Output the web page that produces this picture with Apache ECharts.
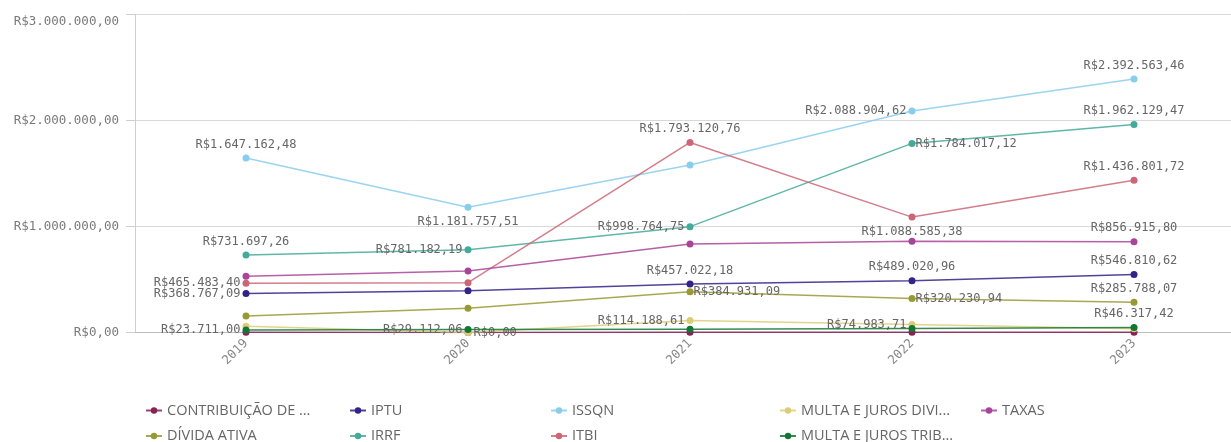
<!DOCTYPE html>
<html>
<head>
<meta charset="utf-8">
<script src="https://cdn.jsdelivr.net/npm/echarts@6/dist/echarts.min.js"></script>
<style>
  html, body { margin: 0; padding: 0; background: #fff; }
  #chart_one { width: 1231px; height: 442px; }
</style>
</head>
<body>
<div id="chart_one"></div>
<script>
// categories
const years = ['2019', '2020', '2021', '2022', '2023'];

// series values (labelled ones exact)
const contribuicao = [1500, 0, 2500, 3000, 2500];
const dividaAtiva = [155000, 228000, 384931.09, 320230.94, 285788.07];
const iptu = [368767.09, 395000, 457022.18, 489020.96, 546810.62];
const irrf = [731697.26, 781182.19, 998764.75, 1784017.12, 1962129.47];
const issqn = [1647162.48, 1181757.51, 1580000, 2088904.62, 2392563.46];
const itbi = [465483.40, 470000, 1793120.76, 1088585.38, 1436801.72];
const multaDivida = [58000, 0, 114188.61, 74983.71, 35000];
const multaTrib = [23711.00, 29112.06, 31000, 38000, 46317.42];
const taxas = [530000, 580000, 835000, 862000, 856915.80];

const names = ['CONTRIBUIÇÃO DE ...', 'DÍVIDA ATIVA', 'IPTU', 'IRRF', 'ISSQN', 'ITBI',
  'MULTA E JUROS DIVI...', 'MULTA E JUROS TRIB...', 'TAXAS'];
const values = [contribuicao, dividaAtiva, iptu, irrf, issqn, itbi, multaDivida, multaTrib, taxas];
const colors = ['#882255', '#999933', '#332288', '#44aa99', '#88ccee', '#cc6677',
  '#ddcc77', '#117733', '#aa4499'];

// which points get a value label, and where (series index -> year index -> place)
const labelPlaces = {
  1: {2: 'rightDown', 3: 'rightDown', 4: 'top'},
  2: {0: 'left', 2: 'top', 3: 'top', 4: 'top'},
  3: {0: 'top', 1: 'leftUp', 2: 'leftUp', 3: 'rightDown', 4: 'top'},
  4: {0: 'top', 1: 'bottom', 3: 'leftUp', 4: 'top'},
  5: {0: 'leftUp', 2: 'top', 3: 'bottom', 4: 'top'},
  6: {1: 'rightUp', 2: 'leftUp', 3: 'leftUp'},
  7: {0: 'leftUp', 1: 'leftUp', 4: 'top'},
  8: {4: 'top'}
};

const monoFont = '"DejaVu Sans Mono", monospace';

function brl(v) {
  var parts = Number(v).toFixed(2).split('.');
  parts[0] = parts[0].replace(/\B(?=(\d{3})+(?!\d))/g, '.');
  return 'R$' + parts[0] + ',' + parts[1];
}

function labelFor(place) {
  var base = {show: true, color: '#666', fontFamily: monoFont, fontSize: 12,
    formatter: function (p) { return brl(p.value); }};
  if (place === 'top') return Object.assign(base, {position: 'top', distance: 4});
  if (place === 'bottom') return Object.assign(base, {position: 'bottom', distance: 5});
  if (place === 'left') return Object.assign(base, {position: 'left', distance: 2});
  if (place === 'leftUp') return Object.assign(base, {position: 'left', distance: 2, offset: [0, -13]});
  if (place === 'rightUp') return Object.assign(base, {position: 'right', distance: 2, offset: [0, -13]});
  if (place === 'rightDown') return Object.assign(base, {position: 'right', distance: 0, offset: [0, 13]});
  return {show: false};
}

var theDom = document.getElementById('chart_one');
var myChart = echarts.init(theDom);

var series = names.map(function (name, i) {
  var places = labelPlaces[i] || {};
  return {
    name: name,
    type: 'line',
    symbol: 'circle',
    symbolSize: 7,
    showAllSymbol: true,
    itemStyle: {color: colors[i]},
    lineStyle: {width: 1.5, opacity: 0.85},
    emphasis: {disabled: true},
    labelLayout: {hideOverlap: false},
    data: values[i].map(function (v, j) {
      return places[j] ? {value: v, label: labelFor(places[j])} : {value: v, label: {show: false}};
    }),
    z: 2 + i
  };
});

// legend laid out in columns, filled top to bottom like the original
var legendCols = [[0, 1], [2, 3], [4, 5], [6, 7], [8]];
var legendLeft = [140, 344, 545, 774, 975];
var legends = legendCols.map(function (col, k) {
  return {
    orient: 'vertical',
    left: legendLeft[k],
    top: 398,
    height: 80,
    itemGap: 10.5,
    itemWidth: 16,
    itemHeight: 8,
    selectedMode: false,
    data: col.map(function (i) { return names[i]; }),
    textStyle: {color: '#666', fontSize: 14.5, fontFamily: '"Open Sans", sans-serif',
      lineHeight: 14}
  };
});

var option = {
  animation: false,
  color: colors,
  legend: legends,
  grid: {left: 135, right: -14, top: 14.5, bottom: 109.5, outerBoundsMode: 'none', containLabel: false},
  xAxis: {
    type: 'category',
    boundaryGap: true,
    data: years,
    axisLine: {lineStyle: {color: '#bdbdbd'}},
    axisTick: {show: false},
    axisLabel: {rotate: 45, color: '#888', fontFamily: monoFont, fontSize: 12.5, margin: 9}
  },
  yAxis: {
    type: 'value',
    min: 0,
    max: 3000000,
    interval: 1000000,
    axisLine: {show: true, lineStyle: {color: '#cfcfcf'}},
    axisTick: {show: true, length: 9, lineStyle: {color: '#cfcfcf'}},
    splitLine: {lineStyle: {color: '#d9d9d9'}},
    axisLabel: {color: '#7a7a7a', fontFamily: monoFont, fontSize: 12.5, margin: 16,
      formatter: function (v) { return v >= 3000000 ? '{top|' + brl(v) + '}' : brl(v); },
      rich: {top: {padding: [14, 0, 0, 0], color: '#7a7a7a', fontFamily: monoFont, fontSize: 12.5}}}
  },
  series: series
};

myChart.setOption(option);
window.onresize = function () {
  myChart.resize();
};
</script>
</body>
</html>
